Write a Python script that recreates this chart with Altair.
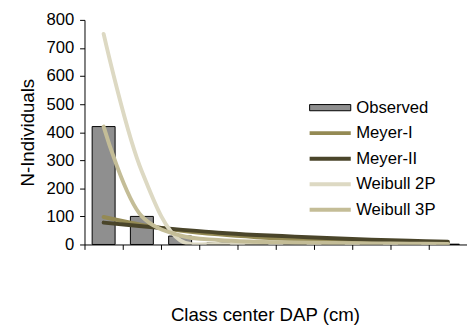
import altair as alt
import pandas as pd

# class centers (tick labels hidden in the reference)
classes = ["5", "15", "25", "35", "45", "55", "65", "75", "85", "95"]
observed = [420, 100, 30, 6, 3, 2, 1, 1, 1, 1]

series_names = ["Meyer-I", "Meyer-II", "Weibull 2P", "Weibull 3P"]
series_colors = ["#948A54", "#4A452A", "#DDD9C3", "#C4BD97"]
meyer_1 = [98, 70, 50, 36, 26, 19, 14, 10, 7, 5]
meyer_2 = [78, 65, 53, 42, 34, 28, 22, 17, 13, 10]
weibull_2p = [750, 260, 15, 2, 1, 1, 0, 0, 0, 0]
weibull_3p = [420, 100, 32, 16, 10, 7, 5, 4, 3, 2]
y_ticks = [0, 100, 200, 300, 400, 500, 600, 700, 800]

bars_df = pd.DataFrame({"cls": classes, "n": observed, "label": "Observed"})

rows = []
for name, vals in zip(series_names, [meyer_1, meyer_2, weibull_2p, weibull_3p]):
    for i, (c, v) in enumerate(zip(classes, vals)):
        rows.append({"cls": c, "n": v, "model": name, "idx": i})
lines_df = pd.DataFrame(rows)

FONT = "Liberation Sans"

x_axis = alt.Axis(
    labels=False,
    bandPosition=0,
    title="Class center DAP (cm)",
    titleFontSize=19,
    titlePadding=57,
    titleX=184,
    tickSize=5,
    domainColor="black",
    tickColor="black",
)
y_axis = alt.Axis(
    values=y_ticks,
    title="N-Individuals",
    titleFontSize=19,
    titlePadding=9,
    labelFontSize=17,
    labelPadding=6,
    labelOverlap=False,
    labelFlush=False,
    labelBound=False,
    tickSize=5,
    domainColor="black",
    tickColor="black",
)
x_scale = alt.Scale(paddingInner=0, paddingOuter=0)
y_scale = alt.Scale(domain=[0, 800], nice=False)

bars = alt.Chart(bars_df).mark_bar(
    stroke="black", strokeWidth=1, width={"band": 0.6}
).encode(
    x=alt.X("cls:N", sort=classes, scale=x_scale, axis=x_axis),
    y=alt.Y("n:Q", scale=y_scale, axis=y_axis),
    fill=alt.Fill(
        "label:N",
        scale=alt.Scale(domain=["Observed"], range=["#8f8f8f"]),
        legend=alt.Legend(
            title=None,
            orient="none",
            legendX=242,
            legendY=81,
            symbolType="M-4,-0.6H4V0.6H-4Z",
            symbolSize=110,
            symbolStrokeColor="black",
            symbolStrokeWidth=1,
            symbolOpacity=1,
            labelOffset=18,
            padding=0,
        ),
    ),
)

lines = alt.Chart(lines_df).mark_line(
    strokeWidth=4, interpolate="catmull-rom", clip=True, strokeCap="round"
).encode(
    x=alt.X("cls:N", sort=classes, scale=x_scale, axis=x_axis),
    y=alt.Y("n:Q", scale=y_scale, axis=y_axis),
    order=alt.Order("idx:Q"),
    stroke=alt.Stroke(
        "model:N",
        sort=series_names,
        scale=alt.Scale(domain=series_names, range=series_colors),
        legend=alt.Legend(
            title=None,
            orient="none",
            legendX=242,
            legendY=107,
            symbolType="M-4,0H4",
            symbolSize=110,
            symbolStrokeWidth=4,
            labelOffset=18,
            rowPadding=8,
            padding=0,
        ),
    ),
)

chart = (
    alt.layer(bars, lines)
    .resolve_scale(x="shared", y="shared")
    .properties(
        width=390,
        height=229,
        autosize=alt.AutoSizeParams(type="none"),
        padding={"left": 78, "top": 9, "right": 0, "bottom": 80},
        background="white",
    )
    .configure_view(stroke=None)
    .configure_axis(
        grid=False,
        labelOverlap=False,
        labelFont=FONT,
        titleFont=FONT,
        labelColor="black",
        titleColor="black",
        titleFontWeight="normal",
    )
    .configure_legend(
        labelFont=FONT,
        labelFontSize=17,
        labelColor="black",
        labelLimit=200,
    )
)

chart.save("out.html", embed_options={"renderer": "svg", "actions": False})
